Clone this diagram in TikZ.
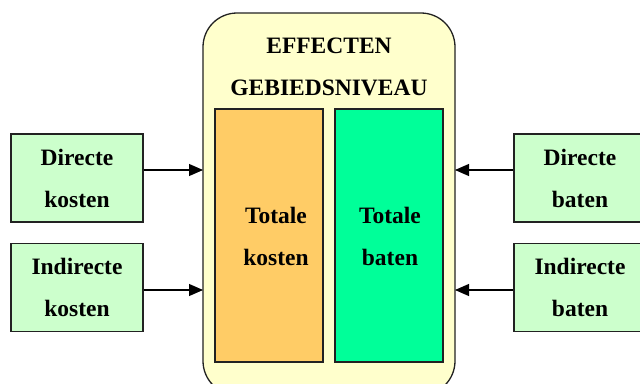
\documentclass[tikz,border=0pt]{standalone}
\usepackage{fontspec}
\setmainfont{Liberation Serif}
\usetikzlibrary{arrows.meta}
\definecolor{panelfill}{HTML}{FFFFCC}
\definecolor{costfill}{HTML}{FFCC66}
\definecolor{benefitfill}{HTML}{00FF99}
\definecolor{sidefill}{HTML}{CCFFCC}
\definecolor{edge}{HTML}{222222}
\begin{document}
\begin{tikzpicture}[x=1pt,y=-1pt,
  txt/.style={font=\bfseries\fontsize{23.5}{42}\selectfont, align=center, inner sep=0pt},
  sidebox/.style={draw=edge, line width=1.1pt, fill=sidefill, minimum width=132pt, minimum height=88pt, inner sep=0pt},
  colbox/.style={draw=edge, line width=1.1pt, minimum width=108pt, minimum height=253pt, inner sep=0pt},
  flow/.style={-{Triangle[length=14pt,width=12pt]}, line width=1.1pt, draw=black}]
\useasboundingbox (0,0) rectangle (640,383);
\begin{scope}
\clip (0,0) rectangle (640,383);
% central panel, running past the lower edge
\draw[edge, line width=1.3pt, fill=panelfill, rounded corners=34pt] (203,13) rectangle (455,395);
% left inputs
\node[sidebox] (dk) at (77,178) {};
\node[sidebox] (ik) at (77,287.5) {};
% right inputs
\node[sidebox] (db) at (580,178) {};
\node[sidebox] (ib) at (580,287.5) {};
\end{scope}
% totals
\node[colbox, fill=costfill] (tk) at (269,235.5) {};
\node[colbox, fill=benefitfill] (tb) at (389,235.5) {};
% labels
\node[txt] (title) at (329,67) {EFFECTEN\\GEBIEDSNIVEAU};
\node[txt] at (276,236) {Totale\\kosten};
\node[txt] at (390,236) {Totale\\baten};
\node[txt] at (dk) {Directe\\kosten};
\node[txt] at (ik) {Indirecte\\kosten};
\node[txt] at (db) {Directe\\baten};
\node[txt] at (ib) {Indirecte\\baten};
% connectors into the panel
\coordinate (pl1) at (203,170);
\coordinate (pl2) at (203,290);
\coordinate (pr1) at (455,170);
\coordinate (pr2) at (455,290);
\draw[flow] (dk.east |- pl1) -- (pl1);
\draw[flow] (ik.east |- pl2) -- (pl2);
\draw[flow] (db.west |- pr1) -- (pr1);
\draw[flow] (ib.west |- pr2) -- (pr2);
\end{tikzpicture}
\end{document}
